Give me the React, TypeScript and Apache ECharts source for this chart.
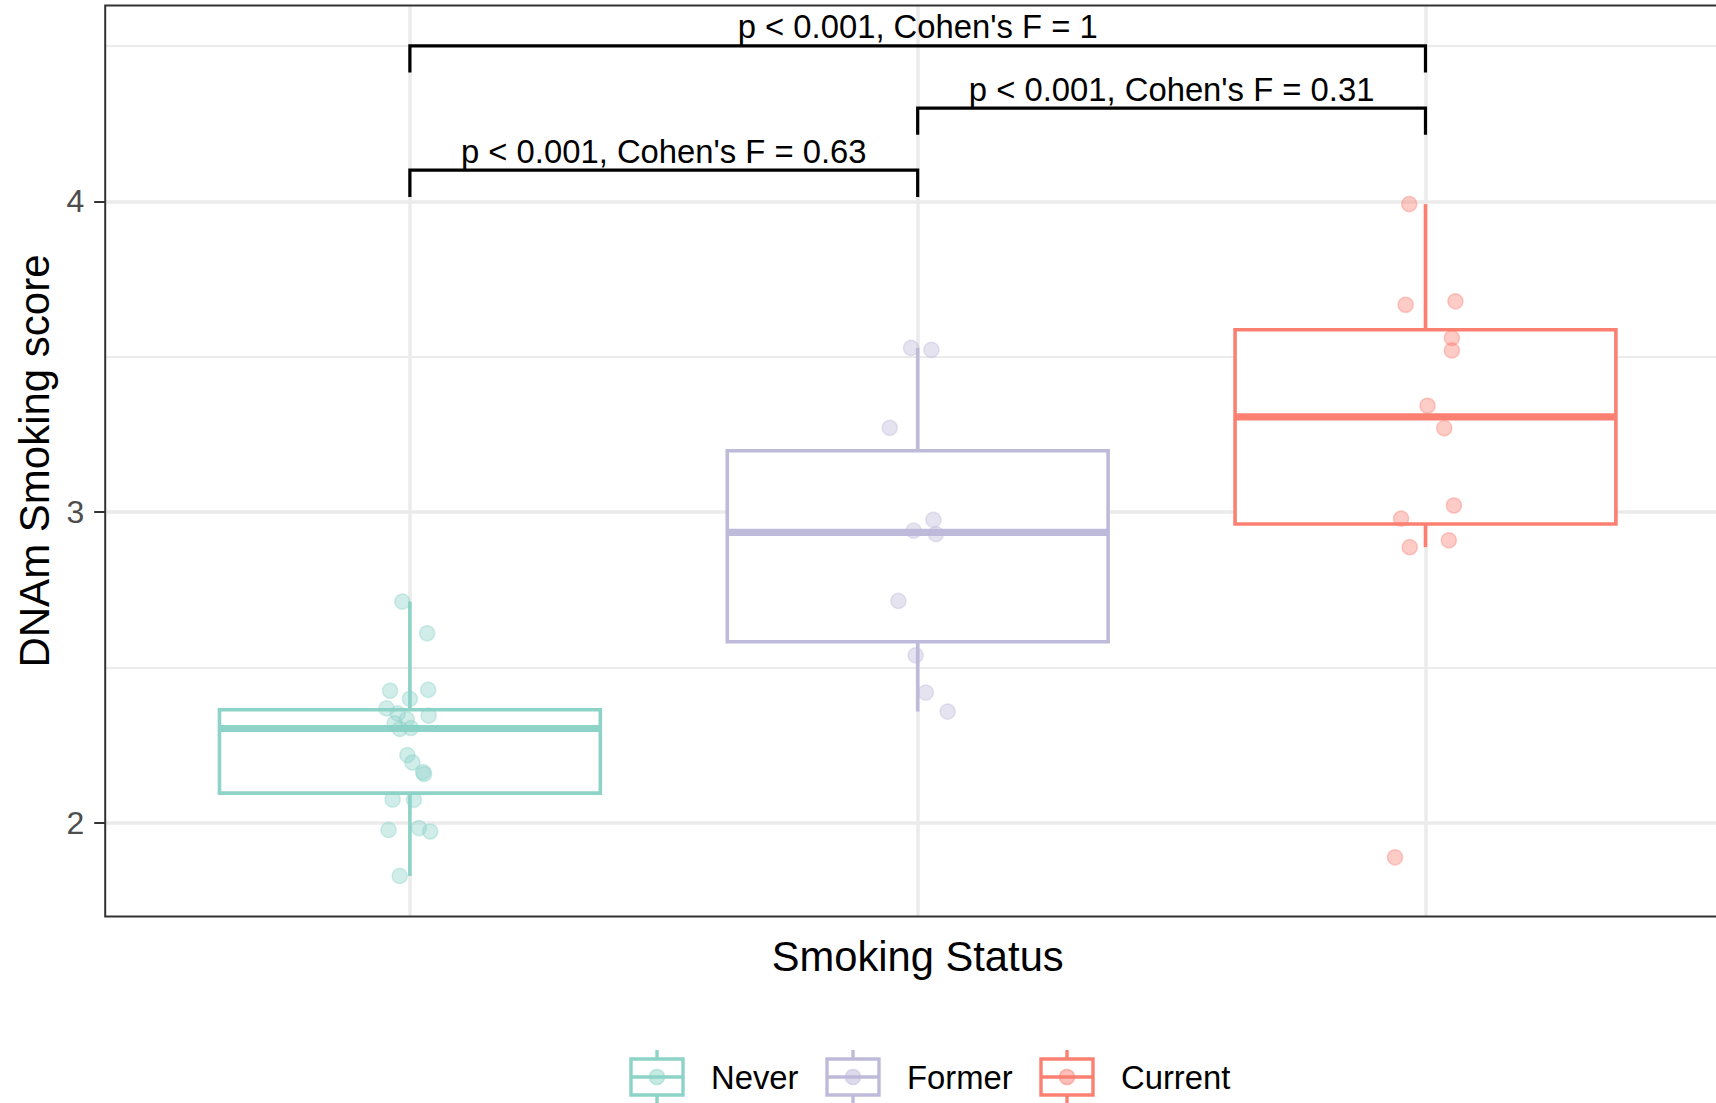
import React, { useEffect, useRef } from 'react';
import * as echarts from 'echarts';

// ---------------- data ----------------
const categories = ['Never', 'Former', 'Current'];
const categoryPositions = [1, 2, 3];
const colors = ['#8DD3C7', '#BEBADA', '#FB8072'];

const neverScores = [2.712, 2.61, 2.425, 2.428, 2.399, 2.368, 2.352, 2.345, 2.333, 2.32, 2.302, 2.305, 2.218, 2.194, 2.163, 2.157, 2.075, 2.074, 1.977, 1.983, 1.972, 1.829];
const neverJitter = [-0.015, 0.034, -0.039, 0.036, 0.0, -0.046, -0.024, 0.037, -0.006, -0.03, -0.02, 0.002, -0.005, 0.005, 0.026, 0.028, -0.034, 0.008, -0.042, 0.018, 0.04, -0.02];

const formerScores = [3.528, 3.522, 3.271, 2.975, 2.94, 2.929, 2.714, 2.539, 2.419, 2.358];
const formerJitter = [-0.013, 0.027, -0.055, 0.031, -0.008, 0.036, -0.038, -0.004, 0.016, 0.059];

const currentScores = [3.991, 3.667, 3.678, 3.56, 3.52, 3.342, 3.27, 3.021, 2.979, 2.887, 2.909, 1.889];
const currentJitter = [-0.032, -0.039, 0.059, 0.052, 0.052, 0.004, 0.037, 0.056, -0.048, -0.031, 0.046, -0.06];

const yMajorTicks = [2, 3, 4];
const yMinorTicks = [2.5, 3.5, 4.5];

const bracketStart = [1, 2, 1];
const bracketEnd = [2, 3, 3];
const bracketHeight = [4.1, 4.3, 4.5];
const bracketTip = 0.086;
const bracketLabels = [
  'p < 0.001, Cohen\'s F = 0.63',
  'p < 0.001, Cohen\'s F = 0.31',
  'p < 0.001, Cohen\'s F = 1',
];

// ---------------- layout / style ----------------
const FONT = '"Liberation Sans", Arial, Helvetica, sans-serif';
const CANVAS_W = 1716;
const CANVAS_H = 1103;
const GRID_LEFT = 105.2;
const GRID_TOP = 5.5;
const GRID_W = CANVAS_W - GRID_LEFT; // panel is cropped at the right edge of the picture
const GRID_H = 911;
const X_MIN = 0.4;
const X_FULL_MAX = 3.6;
const PX_PER_CATEGORY = 507.8;
const X_MAX = X_MIN + GRID_W / PX_PER_CATEGORY;
// the x title is centred on the full (uncropped) panel
const X_NAME_SHIFT = ((X_FULL_MAX - X_MIN) * PX_PER_CATEGORY - GRID_W) / 2;
const BOX_WIDTH = 0.75;
const LEGEND_KEY_LEFT = [631, 827, 1041];
const LEGEND_KEY_W = 52;
const LEGEND_MID_Y = 1077;

const scoreLists = [neverScores, formerScores, currentScores];
const jitterLists = [neverJitter, formerJitter, currentJitter];

function rgba(hex: string, a: number) {
  const n = parseInt(hex.slice(1), 16);
  return `rgba(${(n >> 16) & 255},${(n >> 8) & 255},${n & 255},${a})`;
}

function quantile(sorted: number[], p: number) {
  const h = (sorted.length - 1) * p;
  const lo = Math.floor(h);
  const hi = Math.min(lo + 1, sorted.length - 1);
  return sorted[lo] + (h - lo) * (sorted[hi] - sorted[lo]);
}

function boxStats(values: number[]) {
  const s = [...values].sort((a, b) => a - b);
  const q1 = quantile(s, 0.25);
  const med = quantile(s, 0.5);
  const q3 = quantile(s, 0.75);
  const iqr = q3 - q1;
  const lo = s.find((v) => v >= q1 - 1.5 * iqr) as number;
  const hi = [...s].reverse().find((v) => v <= q3 + 1.5 * iqr) as number;
  return [lo, q1, med, q3, hi];
}

export default function App() {
  const ref = useRef<HTMLDivElement>(null);

  useEffect(() => {
    const chart = echarts.init(ref.current as HTMLDivElement, null, { renderer: 'svg' });

    const boxData = categories.map((_, i) => [categoryPositions[i], ...boxStats(scoreLists[i])]);

    const scatterSeries = categories.map((name, i) => ({
      name,
      type: 'scatter',
      z: 4,
      symbolSize: 15,
      data: scoreLists[i].map((v, j) => [categoryPositions[i] + jitterLists[i][j], v]),
      itemStyle: {
        color: rgba(colors[i], 0.5),
        borderColor: rgba(colors[i], 0.5),
        borderWidth: 1.5,
      },
      emphasis: { disabled: true },
    }));

    const legendGraphics: any[] = [];
    categories.forEach((name, i) => {
      const x0 = LEGEND_KEY_LEFT[i];
      const cx = x0 + LEGEND_KEY_W / 2;
      const my = LEGEND_MID_Y;
      legendGraphics.push({
        type: 'group',
        z: 100,
        children: [
          { type: 'line', shape: { x1: cx, y1: my - 27, x2: cx, y2: my + 34 }, style: { stroke: colors[i], lineWidth: 3.4 } },
          { type: 'rect', shape: { x: x0, y: my - 18, width: LEGEND_KEY_W, height: 36 }, style: { fill: '#fff', stroke: colors[i], lineWidth: 3.4 } },
          { type: 'line', shape: { x1: x0, y1: my, x2: x0 + LEGEND_KEY_W, y2: my }, style: { stroke: colors[i], lineWidth: 3.4 } },
          { type: 'circle', shape: { cx, cy: my, r: 7.5 }, style: { fill: rgba(colors[i], 0.5), stroke: rgba(colors[i], 0.5), lineWidth: 1.5 } },
          {
            type: 'text',
            x: x0 + 80,
            y: my,
            style: { text: name, fill: '#000', fontSize: 32.8, fontFamily: FONT, align: 'left', verticalAlign: 'middle' },
          },
        ],
      });
    });

    const option: any = {
      animation: false,
      backgroundColor: '#fff',
      textStyle: { fontFamily: FONT },
      grid: { left: GRID_LEFT, top: GRID_TOP, width: GRID_W, height: GRID_H, containLabel: false },
      xAxis: {
        type: 'value',
        min: X_MIN,
        max: X_MAX,
        name: 'Smoking Status',
        nameLocation: 'middle',
        nameGap: 19,
        nameTextStyle: { fontSize: 41.7, color: '#000', fontFamily: FONT, padding: [0, 0, 0, X_NAME_SHIFT * 2] },
        axisLine: { show: false },
        axisTick: { show: false, customValues: categoryPositions },
        axisLabel: { show: false, customValues: categoryPositions },
        splitLine: { show: true, lineStyle: { color: '#EBEBEB', width: 3.5 } },
      },
      yAxis: [
        {
          type: 'value',
          min: 1.6985,
          max: 4.63,
          name: 'DNAm Smoking score',
          nameLocation: 'middle',
          nameGap: 50,
          nameTextStyle: { fontSize: 42, color: '#000', fontFamily: FONT },
          axisLine: { show: false },
          axisTick: { show: true, length: 11, customValues: yMajorTicks, lineStyle: { color: '#333333', width: 2 } },
          axisLabel: { show: true, customValues: yMajorTicks, margin: 21, fontSize: 32, color: '#4D4D4D', fontFamily: FONT },
          splitLine: { show: true, lineStyle: { color: '#EBEBEB', width: 3.5 } },
        },
        {
          type: 'value',
          min: 1.6985,
          max: 4.63,
          position: 'left',
          axisLine: { show: false },
          axisTick: { show: false, customValues: yMinorTicks },
          axisLabel: { show: false, customValues: yMinorTicks },
          splitLine: { show: true, lineStyle: { color: '#EBEBEB', width: 1.8 } },
        },
      ],
      series: [
        {
          type: 'custom',
          name: 'boxes',
          z: 3,
          xAxisIndex: 0,
          yAxisIndex: 0,
          encode: { x: 0, y: [1, 2, 3, 4, 5] },
          data: boxData,
          renderItem: (params: any, api: any) => {
            const x = api.value(0);
            const lo = api.coord([x, api.value(1)]);
            const q1 = api.coord([x, api.value(2)]);
            const med = api.coord([x, api.value(3)]);
            const q3 = api.coord([x, api.value(4)]);
            const hi = api.coord([x, api.value(5)]);
            const halfW = api.size([BOX_WIDTH, 0])[0] / 2;
            const c = colors[params.dataIndex];
            return {
              type: 'group',
              children: [
                { type: 'line', shape: { x1: hi[0], y1: hi[1], x2: q3[0], y2: q3[1] }, style: { stroke: c, lineWidth: 3.6 } },
                { type: 'line', shape: { x1: lo[0], y1: lo[1], x2: q1[0], y2: q1[1] }, style: { stroke: c, lineWidth: 3.6 } },
                { type: 'rect', shape: { x: med[0] - halfW, y: q3[1], width: halfW * 2, height: q1[1] - q3[1] }, style: { fill: '#fff', stroke: c, lineWidth: 3.6 } },
                { type: 'line', shape: { x1: med[0] - halfW, y1: med[1], x2: med[0] + halfW, y2: med[1] }, style: { stroke: c, lineWidth: 7.2 } },
              ],
            };
          },
        },
        ...scatterSeries,
        {
          type: 'custom',
          name: 'brackets',
          z: 5,
          xAxisIndex: 0,
          yAxisIndex: 0,
          encode: { x: [0, 1], y: [2, 3] },
          data: bracketStart.map((s, i) => [s, bracketEnd[i], bracketHeight[i], bracketHeight[i] - bracketTip]),
          renderItem: (params: any, api: any) => {
            const a = api.coord([api.value(0), api.value(3)]);
            const b = api.coord([api.value(0), api.value(2)]);
            const c = api.coord([api.value(1), api.value(2)]);
            const d = api.coord([api.value(1), api.value(3)]);
            return {
              type: 'group',
              children: [
                { type: 'polyline', shape: { points: [a, b, c, d] }, style: { stroke: '#000', lineWidth: 3.2, fill: null } },
                {
                  type: 'text',
                  x: (b[0] + c[0]) / 2,
                  y: b[1] - 19,
                  style: {
                    text: bracketLabels[params.dataIndex],
                    fill: '#000',
                    fontSize: 32.8,
                    fontFamily: FONT,
                    align: 'center',
                    verticalAlign: 'middle',
                  },
                },
              ],
            };
          },
        },
      ],
      graphic: [
        {
          type: 'rect',
          z: 90,
          silent: true,
          shape: { x: GRID_LEFT, y: GRID_TOP, width: GRID_W + 40, height: GRID_H },
          style: { fill: null, stroke: '#333333', lineWidth: 2 },
        },
        ...legendGraphics,
      ],
    };

    chart.setOption(option);
    return () => chart.dispose();
  }, []);

  return <div ref={ref} style={{ position: 'absolute', left: 0, top: 0, width: CANVAS_W, height: CANVAS_H }} />;
}
